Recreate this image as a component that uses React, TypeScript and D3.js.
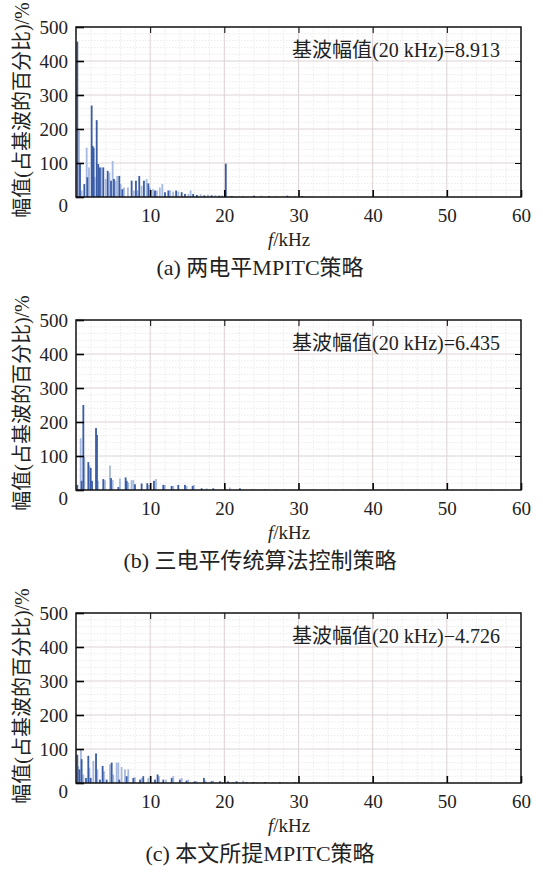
import React, { useEffect, useRef } from "react";
import * as d3 from "d3";

// axis ticks and texts
const X_TICKS = [10, 20, 30, 40, 50, 60];
const Y_TICKS = [0, 100, 200, 300, 400, 500];
const Y_TITLE = "幅值(占基波的百分比)/%";
const CAPTIONS = ["(a) 两电平MPITC策略", "(b) 三电平传统算法控制策略", "(c) 本文所提MPITC策略"];
const FUND_LABELS = ["基波幅值(20 kHz)=8.913", "基波幅值(20 kHz)=6.435", "基波幅值(20 kHz)−4.726"];

// (a) two-level MPITC: harmonic frequency (kHz), amplitude (%), shade (1 = dark)
const FREQ_A = [0.18, 0.4, 0.54, 0.76, 1.12, 1.44, 1.53, 1.75, 2.11, 2.25, 2.38, 2.52, 2.79, 3.0, 3.23, 3.45, 3.68, 4.0, 4.27, 4.5, 4.72, 4.94, 5.12, 5.39, 5.57, 5.84, 6.02, 6.24, 6.47, 7.0, 7.5, 7.8, 8.08, 8.3, 8.53, 8.85, 9.16, 9.52, 9.75, 9.97, 10.4, 10.65, 10.9, 11.3, 11.64, 12.0, 12.45, 12.7, 13.1, 13.5, 13.8, 14.25, 14.7, 15.15, 15.45, 15.8, 16.3, 16.8, 17.3, 17.8, 18.3, 18.8, 19.3, 19.7, 20.2, 21.0, 22.5, 24.0, 25.0, 26.0, 27.0, 28.5, 29.5, 30.5, 31.5];
const AMP_A = [457, 194, 97, 19, 38, 145, 58, 87, 269, 150, 145, 58, 226, 97, 87, 87, 87, 53, 77, 72, 48, 106, 53, 48, 62, 62, 38, 23, 28, 28, 48, 19, 48, 19, 62, 33, 48, 53, 40, 28, 23, 19, 19, 28, 38, 14, 19, 20, 16, 19, 16, 14, 9, 9, 19, 9, 6, 8, 5, 7, 5, 6, 4, 5, 98, 3, 3, 4, 4, 3, 3, 4, 3, 3, 2];
const DARK_A = [1, 0, 1, 0, 1, 0, 1, 0, 1, 1, 1, 0, 1, 1, 1, 0, 1, 0, 1, 0, 1, 0, 1, 0, 0, 1, 0, 1, 0, 0, 1, 0, 1, 0, 1, 0, 1, 0, 1, 0, 0, 1, 0, 0, 0, 1, 1, 0, 0, 1, 0, 1, 1, 0, 0, 1, 1, 0, 1, 0, 1, 0, 1, 0, 1, 1, 0, 1, 0, 1, 0, 1, 0, 1, 0];

// (b) three-level conventional control
const FREQ_B = [0.18, 0.63, 0.76, 0.99, 1.12, 1.66, 1.8, 1.98, 2.16, 2.7, 2.83, 2.96, 3.68, 3.91, 4.58, 4.72, 4.94, 5.71, 5.93, 6.69, 6.83, 7.05, 7.5, 7.73, 7.95, 8.85, 9.61, 9.84, 10.51, 10.78, 11.77, 11.99, 12.89, 13.12, 13.79, 14.69, 14.91, 15.72, 15.9, 16.94, 17.61, 18.51, 20.75, 22.1, 23.67, 25.5, 27.0];
const AMP_B = [15, 152, 27, 250, 97, 82, 72, 65, 27, 182, 162, 27, 32, 29, 72, 35, 29, 9, 34, 37, 27, 22, 29, 29, 17, 19, 20, 15, 27, 32, 15, 15, 12, 12, 15, 15, 12, 12, 15, 5, 5, 5, 7, 5, 3, 2, 2];
const DARK_B = [1, 0, 1, 1, 0, 1, 0, 1, 1, 1, 1, 0, 1, 0, 0, 1, 0, 1, 0, 1, 1, 0, 0, 0, 1, 1, 1, 0, 1, 0, 1, 0, 1, 0, 1, 1, 0, 1, 0, 1, 0, 1, 0, 1, 0, 1, 0];

// (c) proposed MPITC
const FREQ_C = [0.18, 0.31, 0.45, 0.67, 0.76, 0.99, 1.35, 1.66, 1.8, 1.98, 2.34, 2.7, 2.88, 3.23, 3.59, 3.77, 4.13, 4.58, 4.81, 5.03, 5.48, 5.71, 5.84, 6.15, 6.6, 6.83, 7.05, 7.73, 7.95, 8.63, 8.85, 9.07, 9.75, 10.65, 11.0, 11.19, 11.77, 12.13, 12.9, 13.12, 14.0, 14.24, 14.9, 15.14, 16.0, 16.26, 17.25, 17.47, 18.28, 18.5, 19.4, 19.63, 20.5, 21.2, 21.65, 22.55, 23.0, 23.9, 24.35, 25.5, 26.5, 27.5, 28.5, 29.5];
const AMP_C = [83, 50, 40, 100, 70, 25, 15, 80, 45, 15, 65, 87, 40, 10, 50, 35, 10, 55, 60, 25, 60, 60, 10, 47, 40, 20, 40, 15, 17, 10, 15, 20, 15, 10, 25, 20, 10, 10, 15, 20, 10, 15, 7, 10, 5, 5, 15, 7, 5, 7, 5, 3, 5, 3, 5, 7, 3, 3, 3, 3, 2, 3, 2, 2];
const DARK_C = [1, 0, 1, 0, 1, 0, 1, 1, 0, 1, 0, 1, 0, 1, 1, 0, 1, 0, 1, 0, 0, 0, 1, 0, 0, 1, 0, 1, 0, 1, 0, 1, 0, 1, 1, 0, 1, 0, 1, 0, 1, 0, 1, 0, 1, 0, 1, 0, 1, 0, 1, 0, 1, 0, 1, 0, 1, 1, 0, 1, 0, 1, 0, 1];

const panels = [
  { freq: FREQ_A, amp: AMP_A, dark: DARK_A },
  { freq: FREQ_B, amp: AMP_B, dark: DARK_B },
  { freq: FREQ_C, amp: AMP_C, dark: DARK_C },
];

const FONT = "'Liberation Serif', 'Times New Roman', 'Noto Sans CJK SC', serif";

export default function App() {
  const ref = useRef<SVGSVGElement>(null);

  useEffect(() => {
    const svg = d3.select(ref.current);
    svg.selectAll("*").remove();

    const left = 76, right = 521, plotH = 170;
    const x = d3.scaleLinear().domain([0, 60]).range([left, right]);

    panels.forEach((p, i) => {
      const top = 27 + i * 293;
      const bottom = top + plotH;
      const y = d3.scaleLinear().domain([0, 500]).range([bottom, top]);
      const g = svg.append("g");

      // minor grid
      g.selectAll(".minor-x")
        .data(d3.range(2, 60, 2).filter((v) => v % 10 !== 0))
        .join("line")
        .attr("x1", (d) => x(d)).attr("x2", (d) => x(d))
        .attr("y1", top).attr("y2", bottom)
        .attr("stroke", "#e6e6e6").attr("stroke-width", 0.8)
        .attr("stroke-dasharray", "1.5,1.5");
      g.selectAll(".minor-y")
        .data(d3.range(20, 500, 20).filter((v) => v % 100 !== 0))
        .join("line")
        .attr("x1", left).attr("x2", right)
        .attr("y1", (d) => y(d)).attr("y2", (d) => y(d))
        .attr("stroke", "#e6e6e6").attr("stroke-width", 0.8)
        .attr("stroke-dasharray", "1.5,1.5");
      // major grid
      g.selectAll(".major-x")
        .data(X_TICKS.slice(0, -1))
        .join("line")
        .attr("x1", (d) => x(d)).attr("x2", (d) => x(d))
        .attr("y1", top).attr("y2", bottom)
        .attr("stroke", "#ddd2d4").attr("stroke-width", 1);
      g.selectAll(".major-y")
        .data(Y_TICKS.slice(1, -1))
        .join("line")
        .attr("x1", left).attr("x2", right)
        .attr("y1", (d) => y(d)).attr("y2", (d) => y(d))
        .attr("stroke", "#ddd2d4").attr("stroke-width", 1);

      // bars: light ones first, dark ones on top
      const bars = p.freq.map((f, k) => ({ f, v: p.amp[k], dark: p.dark[k] }));
      g.selectAll(".bar")
        .data(bars.slice().sort((a, b) => a.dark - b.dark))
        .join("rect")
        .attr("x", (d) => x(d.f) - 0.9)
        .attr("width", 1.8)
        .attr("y", (d) => y(d.v))
        .attr("height", (d) => bottom - y(d.v))
        .attr("fill", (d) => (d.dark ? "#3a5ca6" : "#a5b8df"));

      // axes with inward ticks
      const xAxis = g.append("g")
        .attr("transform", `translate(0,${bottom})`)
        .call(d3.axisBottom(x).tickValues(X_TICKS).tickSize(-7).tickSizeOuter(0).tickPadding(12));
      xAxis.select(".domain").remove();
      xAxis.selectAll("line").attr("stroke-width", 1.6);
      xAxis.selectAll("text").style("font-family", FONT).style("font-size", "19px").attr("fill", "#222");

      g.append("g")
        .attr("transform", `translate(0,${top})`)
        .call(d3.axisTop(x).tickValues(X_TICKS.slice(0, -1)).tickSize(-6).tickSizeOuter(0).tickFormat(() => ""))
        .call((a) => a.select(".domain").remove());

      const yAxis = g.append("g")
        .attr("transform", `translate(${left},0)`)
        .call(d3.axisLeft(y).tickValues(Y_TICKS).tickSize(-8).tickSizeOuter(0).tickPadding(8));
      yAxis.select(".domain").remove();
      yAxis.selectAll("line").attr("stroke-width", 1.6);
      yAxis.selectAll("text").style("font-family", FONT).style("font-size", "19px").attr("fill", "#222");
      yAxis.selectAll(".tick").filter((d) => d === 0).select("text").attr("y", 8);

      g.append("g")
        .attr("transform", `translate(${right},0)`)
        .call(d3.axisRight(y).tickValues(Y_TICKS.slice(1, -1)).tickSize(-6).tickSizeOuter(0).tickFormat(() => ""))
        .call((a) => a.select(".domain").remove());

      // frame
      g.append("rect")
        .attr("x", left).attr("y", top)
        .attr("width", right - left).attr("height", bottom - top)
        .attr("fill", "none").attr("stroke", "#111").attr("stroke-width", 1.5);

      // fundamental amplitude note
      g.append("text")
        .attr("x", 500).attr("y", top + 30)
        .attr("text-anchor", "end")
        .style("font-family", FONT).style("font-size", "20px").attr("fill", "#222")
        .text(FUND_LABELS[i]);

      // y title
      g.append("text")
        .attr("transform", `translate(29,${(top + bottom) / 2 - 2}) rotate(-90)`)
        .attr("text-anchor", "middle")
        .style("font-family", FONT).style("font-size", "20px").attr("fill", "#222")
        .text(Y_TITLE);

      // x title
      const xt = g.append("text")
        .attr("x", 289).attr("y", bottom + 49)
        .attr("text-anchor", "middle")
        .style("font-family", FONT).style("font-size", "19px").attr("fill", "#222");
      xt.append("tspan").style("font-style", "italic").text("f");
      xt.append("tspan").text("/kHz");

      // caption
      g.append("text")
        .attr("x", 260).attr("y", bottom + 78)
        .attr("text-anchor", "middle")
        .style("font-family", FONT).style("font-size", "22px").attr("fill", "#222")
        .text(CAPTIONS[i]);
    });
  }, []);

  return (
    <svg
      ref={ref}
      width={543}
      height={875}
      style={{ position: "absolute", left: 0, top: 0, background: "#fff" }}
    />
  );
}
